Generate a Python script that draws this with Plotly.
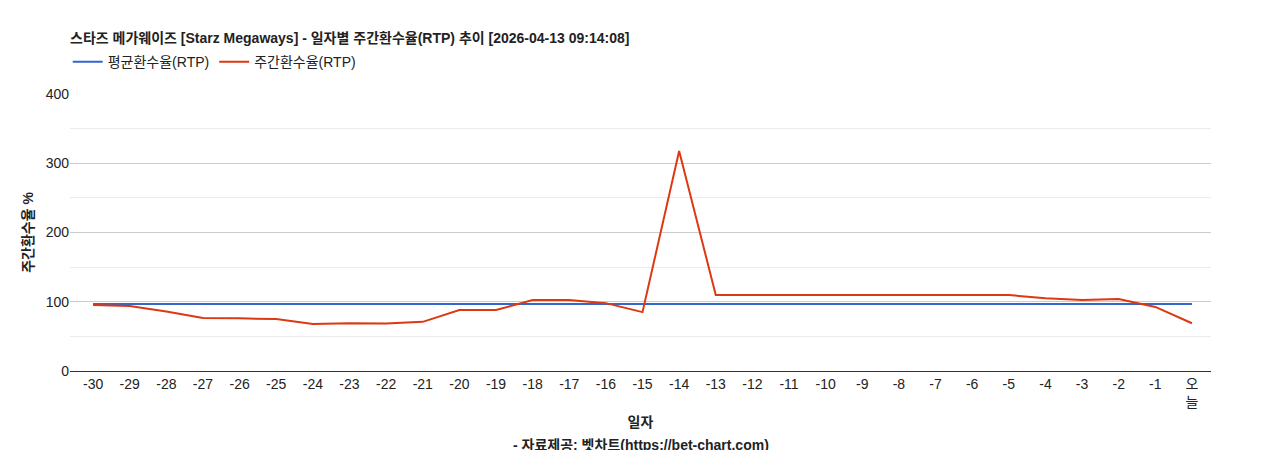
import plotly.graph_objects as go

days = [str(d) for d in range(-30, 0)] + ["오<br>늘"]
weekly_rtp = [95.3, 94, 86, 76.5, 76, 75, 68, 69, 68.5, 71, 88, 88, 102.5, 102.5, 98, 85,
              317.7, 109.7, 109.7, 109.7, 109.7, 109.7, 109.7, 109.7, 109.7, 109.7,
              105, 102.5, 104, 92.5, 69]
avg_rtp = [96.7] * len(days)

fig = go.Figure()
fig.add_trace(go.Scatter(x=days, y=avg_rtp, mode="lines", name="평균환수율(RTP)",
                         line=dict(color="#3366cc", width=2)))
fig.add_trace(go.Scatter(x=days, y=weekly_rtp, mode="lines", name="주간환수율(RTP)",
                         line=dict(color="#dc3912", width=2)))

fig.update_layout(
    width=1268, height=450,
    paper_bgcolor="white", plot_bgcolor="white",
    font=dict(family="Arial, Noto Sans CJK KR", size=14, color="#222"),
    margin=dict(l=62, r=65, t=86, b=87, autoexpand=False),
    title=dict(text="<b>스타즈 메가웨이즈 [Starz Megaways] - 일자별 주간환수율(RTP) 추이 [2026-04-13 09:14:08]</b>",
               x=62 / 1268, xanchor="left", y=1 - 30 / 450, yanchor="middle",
               font=dict(size=14, color="#222")),
    legend=dict(orientation="h", x=-0.002, y=1.115, xanchor="left", yanchor="middle",
                font=dict(size=14)),
    showlegend=True,
    xaxis=dict(type="category", range=[-0.63, 30.52], showgrid=False,
               showline=True, linecolor="#333", ticks="", tickfont=dict(size=14, color="#222"),
               title=dict(text="<b>일자</b>", font=dict(size=14), standoff=8)),
    yaxis=dict(range=[0, 400], dtick=100, gridcolor="#cccccc", zeroline=False,
               tickfont=dict(size=14, color="#222"),
               minor=dict(dtick=50, showgrid=True, gridcolor="#ebebeb"),
               title=dict(text="<b>주간환수율 %</b>", font=dict(size=14), standoff=8)),
)
fig.add_annotation(text="<b>- 자료제공: 벳차트(https://bet-chart.com)</b>", xref="paper", yref="paper",
                   x=0.5, y=(363 - 437) / 277, showarrow=False, yanchor="middle",
                   font=dict(size=14, color="#222"))

fig.write_html("out.html")
